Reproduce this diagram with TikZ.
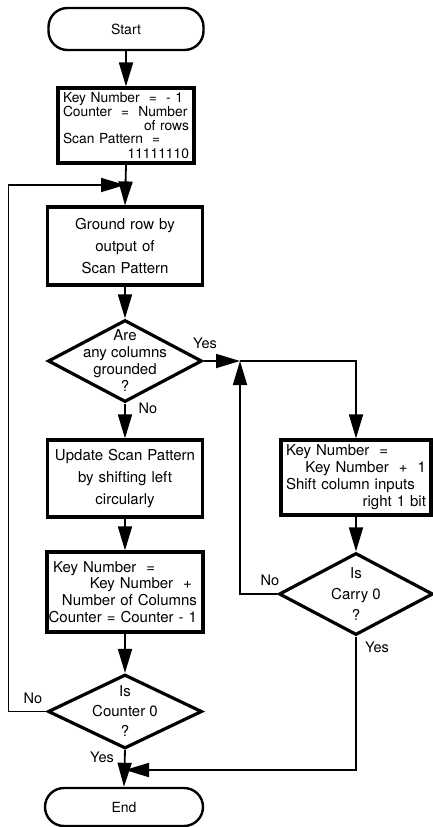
\documentclass[tikz,border=0pt]{standalone}
\usepackage{fontspec}
\setmainfont{TeX Gyre Heros}
\usetikzlibrary{shapes.geometric,arrows.meta}
\newcommand\flushr[1]{\makebox[\linewidth][r]{#1}}
\newcommand\flushl[1]{\makebox[\linewidth][l]{#1}}
\begin{document}
\begin{tikzpicture}[x=1pt,y=-1pt,
  conn/.style={line width=1.8pt,-{Triangle[length=24pt,width=14pt]}},
  plain/.style={line width=1.8pt},
  box/.style={draw,rectangle,line width=3.2pt,inner sep=0pt},
  term/.style={draw,rectangle,rounded corners=19pt,line width=2.4pt,inner sep=0pt,font=\fontsize{14}{16}\selectfont},
  dia/.style={draw,diamond,line width=3.2pt,inner sep=0pt},
  lbl/.style={font=\fontsize{14.5}{16}\selectfont,inner sep=0pt},
]
\useasboundingbox (0,0) rectangle (432,827);

% terminals
\node[term,minimum width=155pt,minimum height=42pt] (start) at (126,29) {Start};
\node[term,minimum width=158pt,minimum height=38pt] (end) at (124,807) {End};

% process boxes
\node[box,minimum width=136pt,minimum height=75pt,text width=126pt,align=left,
      font=\fontsize{13.8}{14}\selectfont] (init) at (126,125.5)
  {\flushl{Key Number\ \ =\ \ - 1}\\\flushl{Counter\ \ =\ \ Number}\\\flushr{of rows}\\[-1pt]\flushl{Scan Pattern\ \ =}\\[1pt]\flushr{11111110}};
\node[box,minimum width=155pt,minimum height=78pt,text width=150pt,align=center,
      font=\fontsize{15}{21.7}\selectfont] (ground) at (125,246)
  {Ground row by\\output of\\Scan Pattern};
\node[box,minimum width=155pt,minimum height=77pt,text width=150pt,align=center,
      font=\fontsize{15}{21.7}\selectfont] (update) at (125,478.5)
  {Update Scan Pattern\\by shifting left\\circularly};
\node[box,minimum width=156pt,minimum height=80pt,text width=144pt,align=left,
      font=\fontsize{15}{16.7}\selectfont] (lkey) at (125,592)
  {Key Number~~=\\\flushr{Key Number~~+~}\\\flushr{Number of Columns}\\\flushr{Counter = Counter - 1}};
\node[box,minimum width=150pt,minimum height=75pt,text width=140pt,align=left,
      font=\fontsize{15}{17}\selectfont] (rbox) at (356,477.5)
  {Key Number~~=\\\flushr{Key Number~~+~~1}\\Shift column inputs\\\flushr{right 1 bit}};

% decisions
\node[dia,minimum width=154pt,minimum height=82pt] (d1) at (125,361) {};
\node[lbl,align=center,font=\fontsize{15}{17}\selectfont] (d1t) at (d1.center) {Are\\any columns\\grounded\\?};
\node[dia,minimum width=154pt,minimum height=82pt] (d2) at (356,594) {};
\node[lbl,align=center,font=\fontsize{15}{21}\selectfont] (d2t) at (d2.center) {Is\\Carry 0\\?};
\node[dia,minimum width=154pt,minimum height=74pt] (d3) at (125,711.5) {};
\node[lbl,align=center,font=\fontsize{15}{20}\selectfont] (d3t) at (d3.center) {Is\\Counter 0\\?};

% junctions
\coordinate (j1) at (125,185);
\coordinate (j2) at (240,361);
\coordinate (j3) at (125,770);

% connectors
\draw[conn] (start.south) -- (init.north);
\draw[conn] (init.south) -- (ground.north);
\draw[conn] (ground.south) -- (d1.north);
\draw[conn] (d1.south) -- (update.north);
\draw[conn] (update.south) -- (lkey.north);
\draw[conn] (lkey.south) -- (d3.north);
\draw[conn] (d3.south) -- (end.north);
\draw[conn] (d3.west) -- ++(-38,0) |- (j1);
\draw[conn] (d1.east) -- (j2);
\draw[conn] (j2) -| (rbox.north);
\draw[conn] (rbox.south) -- (d2.north);
\draw[conn] (d2.west) -| (j2);
\draw[conn] (d2.south) |- (j3);

% branch labels
\node[lbl] (l1) at (148,408) {No};
\node[lbl] (l2) at (205,343) {Yes};
\node[lbl] (l3) at (33,698) {No};
\node[lbl] (l4) at (102,757) {Yes};
\node[lbl] (l5) at (270,580) {No};
\node[lbl] (l6) at (377,647) {Yes};
\end{tikzpicture}
\end{document}
